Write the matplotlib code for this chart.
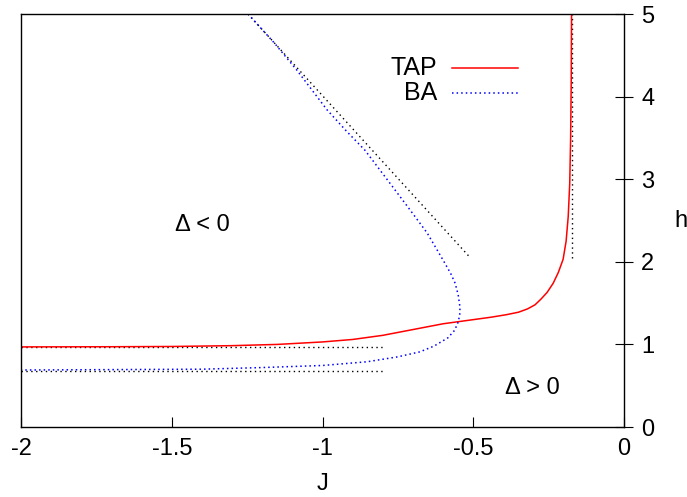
import matplotlib
matplotlib.use("Agg")
from matplotlib import pyplot as plt

plt.rcParams['font.family'] = ['Liberation Sans', 'DejaVu Sans']
plt.rcParams['font.size'] = 17

# TAP curve (J, h)
tap_J = [-2.0, -1.7, -1.5, -1.3, -1.15, -1.0, -0.9, -0.8, -0.7, -0.6, -0.5, -0.44, -0.39,
         -0.35, -0.32, -0.295, -0.275, -0.255, -0.235, -0.218, -0.202, -0.192, -0.185,
         -0.180, -0.177, -0.175, -0.174]
tap_h = [0.97, 0.972, 0.975, 0.985, 1.0, 1.03, 1.06, 1.11, 1.18, 1.25, 1.30, 1.33, 1.36,
         1.39, 1.43, 1.48, 1.55, 1.63, 1.74, 1.87, 2.03, 2.25, 2.55,
         2.95, 3.5, 4.2, 5.0]

# BA curve (J, h), traced from top branch round the nose to the lower branch
ba_J = [-1.247, -1.16, -1.085, -0.985, -0.92, -0.859, -0.776, -0.71, -0.653, -0.6,
        -0.575, -0.56, -0.55, -0.544, -0.545, -0.55, -0.562, -0.584, -0.63, -0.677,
        -0.75, -0.852, -1.0, -1.2, -1.4, -1.7, -2.0]
ba_h = [5.0, 4.65, 4.32, 3.84, 3.58, 3.35, 2.95, 2.63, 2.35, 2.02,
        1.86, 1.74, 1.6, 1.45, 1.36, 1.27, 1.17, 1.08, 0.98, 0.91,
        0.85, 0.79, 0.745, 0.72, 0.70, 0.695, 0.69]

# asymptotes (black dotted)
diag_J = [-1.247, -0.51]
diag_h = [5.0, 2.05]
vert_J = [-0.174, -0.174]
vert_h = [2.05, 5.0]
hor_J = [-2.0, -0.8]
hor_upper_h = [0.965, 0.965]
hor_lower_h = [0.68, 0.68]

fig = plt.figure(figsize=(6.87, 4.97), dpi=100)
ax = fig.add_axes([0.0306, 0.1408, 0.8777, 0.8310])

dot = (0, (1, 2.5))
ax.plot(hor_J, hor_upper_h, color='black', lw=1.0, ls=dot)
ax.plot(hor_J, hor_lower_h, color='black', lw=1.0, ls=dot)
ax.plot(diag_J, diag_h, color='black', lw=1.0, ls=dot)
ax.plot(vert_J, vert_h, color='black', lw=1.0, ls=dot)
ax.plot(tap_J, tap_h, color='#ff0000', lw=1.1)
ax.plot(ba_J, ba_h, color='#0000ff', lw=1.1, ls=(0, (1, 2)))

# legend drawn by hand (gnuplot style, text right-aligned)
ax.text(0.690, 0.869, 'TAP', transform=ax.transAxes, ha='right', va='center', fontsize=18)
ax.text(0.690, 0.809, 'BA', transform=ax.transAxes, ha='right', va='center', fontsize=18)
ax.plot([0.715, 0.824], [0.869, 0.869], transform=ax.transAxes, color='#ff0000', lw=1.1)
ax.plot([0.715, 0.824], [0.809, 0.809], transform=ax.transAxes, color='#0000ff', lw=1.1,
        ls=(0, (1, 2)))

ax.text(-1.40, 2.45, 'Δ < 0', ha='center', va='center')
ax.text(-0.305, 0.47, 'Δ > 0', ha='center', va='center')

ax.set_xlim(-2, 0)
ax.set_ylim(0, 5)
ax.set_xticks([-2, -1.5, -1, -0.5, 0])
ax.set_xticklabels(['-2', '-1.5', '-1', '-0.5', '0'])
ax.set_yticks([0, 1, 2, 3, 4, 5])
ax.yaxis.tick_right()
ax.yaxis.set_label_position('right')
ax.tick_params(axis='x', direction='in', length=7, pad=8)
ax.tick_params(axis='y', direction='inout', length=13, pad=6)
ax.set_xlabel('J', labelpad=9)
ax.set_ylabel('h', rotation=0, va='center', ha='center')
ax.yaxis.set_label_coords(1.094, 0.5)
for s in ax.spines.values():
    s.set_linewidth(1.0)

fig.savefig('out.png', dpi=100)
